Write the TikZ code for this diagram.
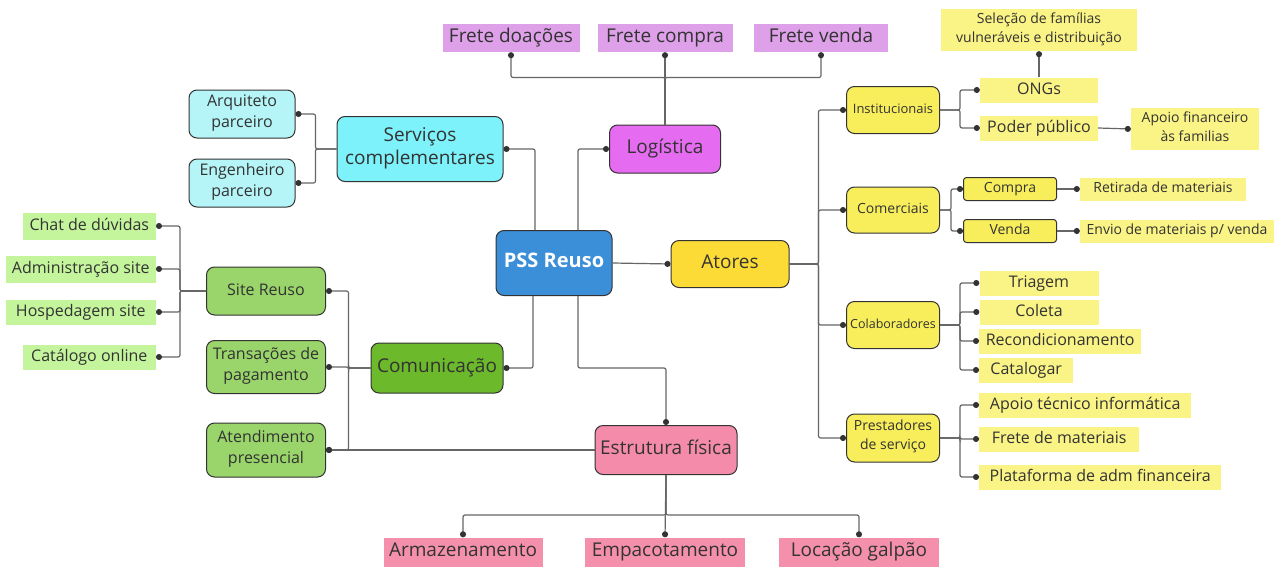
\documentclass[tikz,border=0pt]{standalone}
\usepackage{fontspec}
\setmainfont{Open Sans}
\usetikzlibrary{arrows.meta,calc,positioning}

\definecolor{pssblue}{HTML}{3B8ED8}
\definecolor{logmag}{HTML}{E56BF0}
\definecolor{fretelil}{HTML}{DEA0E8}
\definecolor{servcyan}{HTML}{7DF2FA}
\definecolor{parcyan}{HTML}{B5F5F8}
\definecolor{comgreen}{HTML}{6CB92B}
\definecolor{midgreen}{HTML}{99D56A}
\definecolor{leafgreen}{HTML}{C4F59C}
\definecolor{estpink}{HTML}{F58BAA}
\definecolor{leafpink}{HTML}{F590AC}
\definecolor{atorgold}{HTML}{FCDB36}
\definecolor{actyellow}{HTML}{F8EE5C}
\definecolor{leafyellow}{HTML}{FAF385}
\definecolor{inkgray}{HTML}{333333}

\newcommand\szBig{\fontsize{19}{23}\selectfont}
\newcommand\szMid{\fontsize{16}{21}\selectfont}
\newcommand\szSmall{\fontsize{14}{19}\selectfont}
\newcommand\szTiny{\fontsize{12.5}{16}\selectfont}

\begin{document}
\begin{tikzpicture}[x=1pt,y=-1pt,
  box/.style={rectangle, rounded corners=8pt, draw=inkgray, line width=1pt,
    align=center, text=inkgray, inner sep=2pt,
    execute at begin node=\strut, execute at end node=\strut},
  tag/.style={rectangle, align=center, text=inkgray, inner sep=2pt,
    execute at begin node=\strut, execute at end node=\strut},
  link/.style={draw=black!60, line width=1.2pt, rounded corners=2pt,
    -{Circle[length=6pt,width=6pt,color=inkgray]}}
  ]
  \useasboundingbox[fill=white] (0,0) rectangle (1284,570);

  % centre and first ring
  \node[box, fill=pssblue, text=white, font=\fontsize{20}{24}\selectfont\bfseries,
    minimum width=116pt, minimum height=65pt] (pss) at (554,263) {PSS Reuso};
  \node[box, fill=logmag, font=\szBig, minimum width=111pt, minimum height=48pt] (log) at (665,149) {Logística};
  \node[box, fill=servcyan, font=\szBig, minimum width=166pt, minimum height=65pt] (serv) at (420,149) {Serviços\\complementares};
  \node[box, fill=comgreen, font=\szBig, minimum width=132pt, minimum height=50pt] (com) at (437,368) {Comunicação};
  \node[box, fill=estpink, font=\szBig, minimum width=142pt, minimum height=49pt] (est) at (666,450) {Estrutura física};
  \node[box, fill=atorgold, font=\szBig, minimum width=118pt, minimum height=47pt] (ato) at (730,264) {Atores};

  % logistica
  \node[tag, fill=fretelil, font=\szBig, minimum width=137pt, minimum height=28pt] (fdoa) at (511,38) {Frete doações};
  \node[tag, fill=fretelil, font=\szBig, minimum width=135pt, minimum height=28pt] (fcomp) at (665,38) {Frete compra};
  \node[tag, fill=fretelil, font=\szBig, minimum width=134pt, minimum height=28pt] (fvend) at (821,38) {Frete venda};

  % servicos
  \node[box, fill=parcyan, font=\szMid, minimum width=106pt, minimum height=48pt] (arq) at (242,114) {Arquiteto\\parceiro};
  \node[box, fill=parcyan, font=\szMid, minimum width=106pt, minimum height=48pt] (eng) at (242,183) {Engenheiro\\parceiro};

  % comunicacao
  \node[box, fill=midgreen, font=\szMid, minimum width=119pt, minimum height=48pt] (site) at (266,291) {Site Reuso};
  \node[box, fill=midgreen, font=\szMid, minimum width=119pt, minimum height=53pt] (trans) at (266,367) {Transações de\\pagamento};
  \node[box, fill=midgreen, font=\szMid, minimum width=119pt, minimum height=54pt] (atend) at (266,450) {Atendimento\\presencial};
  \node[tag, fill=leafgreen, font=\szMid, anchor=east, minimum width=133pt, minimum height=27pt] (chat) at (156,226) {Chat de dúvidas};
  \node[tag, fill=leafgreen, font=\szMid, anchor=east, minimum width=150pt, minimum height=27pt] (adm) at (156,269) {Administração site};
  \node[tag, fill=leafgreen, font=\szMid, anchor=east, minimum width=150pt, minimum height=25pt] (hosp) at (156,312) {Hospedagem site};
  \node[tag, fill=leafgreen, font=\szMid, anchor=east, minimum width=133pt, minimum height=25pt] (cat) at (156,357) {Catálogo online};

  % estrutura
  \node[tag, fill=leafpink, font=\szBig, minimum width=159pt, minimum height=29pt] (arm) at (463,552) {Armazenamento};
  \node[tag, fill=leafpink, font=\szBig, minimum width=160pt, minimum height=29pt] (emp) at (665,552) {Empacotamento};
  \node[tag, fill=leafpink, font=\szBig, minimum width=160pt, minimum height=29pt] (loc) at (859,552) {Locação galpão};

  % atores
  \node[box, fill=actyellow, font=\fontsize{13}{16}\selectfont, minimum width=93pt, minimum height=47pt] (inst) at (893,110) {Institucionais};
  \node[box, fill=actyellow, font=\szSmall, minimum width=93pt, minimum height=46pt] (comc) at (893,210) {Comerciais};
  \node[box, fill=actyellow, font=\szTiny, minimum width=93pt, minimum height=47pt] (cola) at (893,325) {Colaboradores};
  \node[box, fill=actyellow, font=\szSmall, minimum width=93pt, minimum height=48pt] (prest) at (893,438) {Prestadores\\de serviço};

  \node[tag, fill=leafyellow, font=\szMid, minimum width=118pt, minimum height=24pt] (ongs) at (1039,90) {ONGs};
  \node[tag, fill=leafyellow, font=\szMid, minimum width=118pt, minimum height=25pt] (poder) at (1039,128) {Poder público};
  \node[tag, fill=leafyellow, font=\szSmall, minimum width=196pt, minimum height=42pt] (selec) at (1039,30) {Seleção de famílias\\vulneráveis e distribuição};
  \node[tag, fill=leafyellow, font=\szSmall, minimum width=128pt, minimum height=42pt] (apoio) at (1195,129) {Apoio financeiro\\às familias};

  \node[box, rounded corners=3pt, fill=actyellow, font=\szSmall, minimum width=93pt, minimum height=23pt] (compra) at (1010,189) {Compra};
  \node[box, rounded corners=3pt, fill=actyellow, font=\szSmall, minimum width=93pt, minimum height=23pt] (venda) at (1010,231) {Venda};
  \node[tag, fill=leafyellow, font=\szSmall, minimum width=166pt, minimum height=22pt] (retir) at (1163,189) {Retirada de materiais};
  \node[tag, fill=leafyellow, font=\szSmall, minimum width=194pt, minimum height=22pt] (envio) at (1177,231) {Envio de materiais p/ venda};

  \node[tag, fill=leafyellow, font=\szMid, minimum width=119pt, minimum height=24pt] (tria) at (1039,283) {Triagem};
  \node[tag, fill=leafyellow, font=\szMid, minimum width=119pt, minimum height=23pt] (colet) at (1039,312) {Coleta};
  \node[tag, fill=leafyellow, font=\szMid, anchor=west, minimum width=162pt, minimum height=24pt] (recon) at (979,341) {Recondicionamento};
  \node[tag, fill=leafyellow, font=\szMid, anchor=west, minimum width=94pt, minimum height=23pt] (catal) at (979,370) {Catalogar};

  \node[tag, fill=leafyellow, font=\szMid, anchor=west, minimum width=212pt, minimum height=24pt] (aptec) at (979,405) {Apoio técnico informática};
  \node[tag, fill=leafyellow, font=\szMid, anchor=west, minimum width=160pt, minimum height=23pt] (frmat) at (979,439) {Frete de materiais};
  \node[tag, fill=leafyellow, font=\szMid, anchor=west, minimum width=242pt, minimum height=24pt] (plat) at (979,477) {Plataforma de adm financeira};

  % connectors from the centre
  \draw[link] (pss.east) -- (ato.west);
  \draw[link] ($(pss.north)+(-19,0)$) |- (serv.east);
  \draw[link] ($(pss.north)+(24,0)$) |- (log.west);
  \draw[link] ($(pss.south)+(-21,0)$) |- (com.east);
  \draw[link] ($(pss.south)+(24,0)$) -- ++(0,72) -| (est.north);

  \draw[link] (log.north) -- ++(0,-47) -| (fdoa.south);
  \draw[link] (log.north) -- (fcomp.south);
  \draw[link] (log.north) -- ++(0,-47) -| (fvend.south);

  \draw[link] (serv.west) -- ++(-21,0) |- (arq.east);
  \draw[link] (serv.west) -- ++(-21,0) |- (eng.east);

  \draw[link] (com.west) -- ++(-22,0) |- (site.east);
  \draw[link] (com.west) -- ++(-22,0) |- (trans.east);
  \draw[link] (com.west) -- ++(-22,0) |- (atend.east);
  \draw[link] (est.west) -- (atend.east);

  \draw[link] (site.west) -- ++(-26,0) |- (chat.east);
  \draw[link] (site.west) -- ++(-26,0) |- (adm.east);
  \draw[link] (site.west) -- ++(-26,0) |- (hosp.east);
  \draw[link] (site.west) -- ++(-26,0) |- (cat.east);

  \draw[link] (est.south) -- ++(0,40) -| (arm.north);
  \draw[link] (est.south) -- (emp.north);
  \draw[link] (est.south) -- ++(0,40) -| (loc.north);

  \draw[link] (ato.east) -- ++(29,0) |- (inst.west);
  \draw[link] (ato.east) -- ++(29,0) |- (comc.west);
  \draw[link] (ato.east) -- ++(29,0) |- (cola.west);
  \draw[link] (ato.east) -- ++(29,0) |- (prest.west);

  \draw[link] (inst.east) -- ++(20,0) |- (ongs.west);
  \draw[link] (inst.east) -- ++(20,0) |- (poder.west);
  \draw[link] (ongs.north) -- (selec.south);
  \draw[link] (poder.east) -- (apoio.west);

  \draw[link] (comc.east) -- ++(11,0) |- (compra.west);
  \draw[link] (comc.east) -- ++(11,0) |- (venda.west);
  \draw[link] (compra.east) -- (retir.west);
  \draw[link] (venda.east) -- (envio.west);

  \draw[link] (cola.east) -- ++(20,0) |- (tria.west);
  \draw[link] (cola.east) -- ++(20,0) |- (colet.west);
  \draw[link] (cola.east) -- ++(20,0) |- (recon.west);
  \draw[link] (cola.east) -- ++(20,0) |- (catal.west);

  \draw[link] (prest.east) -- ++(20,0) |- (aptec.west);
  \draw[link] (prest.east) -- ++(20,0) |- (frmat.west);
  \draw[link] (prest.east) -- ++(20,0) |- (plat.west);
\end{tikzpicture}
\end{document}
